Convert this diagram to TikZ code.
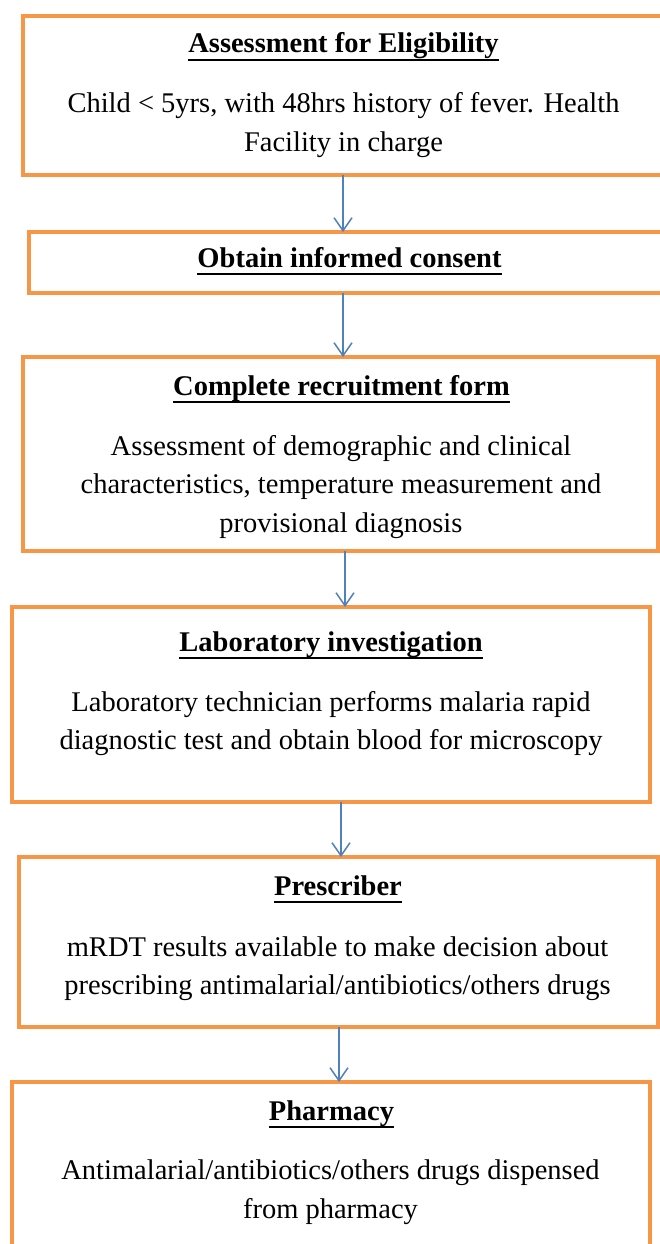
\documentclass[tikz,border=0pt]{standalone}
\usepackage{fontspec}
\setmainfont{Liberation Serif}
\usetikzlibrary{arrows.meta}
\definecolor{boxorange}{HTML}{F79646}
\definecolor{arrblue}{HTML}{4F81BD}
\newsavebox\ttlbox
\newcommand\ttlline[1]{\sbox\ttlbox{\bfseries #1}\rlap{\rule[-7.8pt]{\wd\ttlbox}{1.8pt}}\usebox\ttlbox}
\begin{document}
\begin{tikzpicture}[x=1pt,y=-1pt,
  flowbox/.style={draw=boxorange,line width=3.5pt,rectangle,inner sep=0pt,outer sep=0pt},
  ttl/.style={anchor=base,inner sep=0pt,font=\fontsize{28.5}{38.5}\selectfont},
  body/.style={align=center,inner sep=0pt,font=\fontsize{28.5}{38.5}\selectfont},
  arr/.style={draw=arrblue,line width=1.5pt,-{Straight Barb[length=13pt,width=18pt]}}]
\useasboundingbox (0,0) rectangle (660,1244);
\clip (0,0) rectangle (660,1244);
\fill[white] (0,0) rectangle (660,1244);
% boxes
\node[flowbox,minimum width=642pt,minimum height=159pt] (b1) at (344,95.5) {};
\node[flowbox,minimum width=636pt,minimum height=61pt] (b2) at (347,262.5) {};
\node[flowbox,minimum width=635pt,minimum height=194pt] (b3) at (340.5,454) {};
\node[flowbox,minimum width=638pt,minimum height=195pt] (b4) at (331,704.5) {};
\node[flowbox,minimum width=639pt,minimum height=170pt] (b5) at (338.5,942) {};
\node[flowbox,minimum width=638pt,minimum height=168pt] (b6) at (331,1166) {};
% titles
\node[ttl] (t1) at (343.5,53) {\ttlline{Assessment for Eligibility}};
\node[ttl] (t2) at (349.5,267) {\ttlline{Obtain informed consent}};
\node[ttl] (t3) at (341.5,395) {\ttlline{Complete recruitment form}};
\node[ttl] (t4) at (331,651) {\ttlline{Laboratory investigation}};
\node[ttl] (t5) at (338,895) {\ttlline{Prescriber}};
\node[ttl] (t6) at (331.5,1120) {\ttlline{Pharmacy}};
% bodies
\node[body] (d1) at (343.5,125) {Child < 5yrs, with 48hrs history of fever. Health\\Facility in charge};
\node[body] (d3) at (341,487) {Assessment of demographic and clinical\\characteristics, temperature measurement and\\provisional diagnosis};
\node[body] (d4) at (331,723.5) {Laboratory technician performs malaria rapid\\diagnostic test and obtain blood for microscopy};
\node[body] (d5) at (337.5,968.5) {mRDT results available to make decision about\\prescribing antimalarial/antibiotics/others drugs};
\node[body] (d6) at (330.5,1192) {Antimalarial/antibiotics/others drugs dispensed\\from pharmacy};
% connectors
\coordinate (a1) at (343,0);
\coordinate (a2) at (343,0);
\coordinate (a3) at (345,0);
\coordinate (a4) at (341,0);
\coordinate (a5) at (339,0);
\draw[arr] (b1.south -| a1) -- (b2.north -| a1);
\draw[arr] (b2.south -| a2) -- (b3.north -| a2);
\draw[arr] (b3.south -| a3) -- (b4.north -| a3);
\draw[arr] (b4.south -| a4) -- (b5.north -| a4);
\draw[arr] (b5.south -| a5) -- (b6.north -| a5);
\end{tikzpicture}
\end{document}
